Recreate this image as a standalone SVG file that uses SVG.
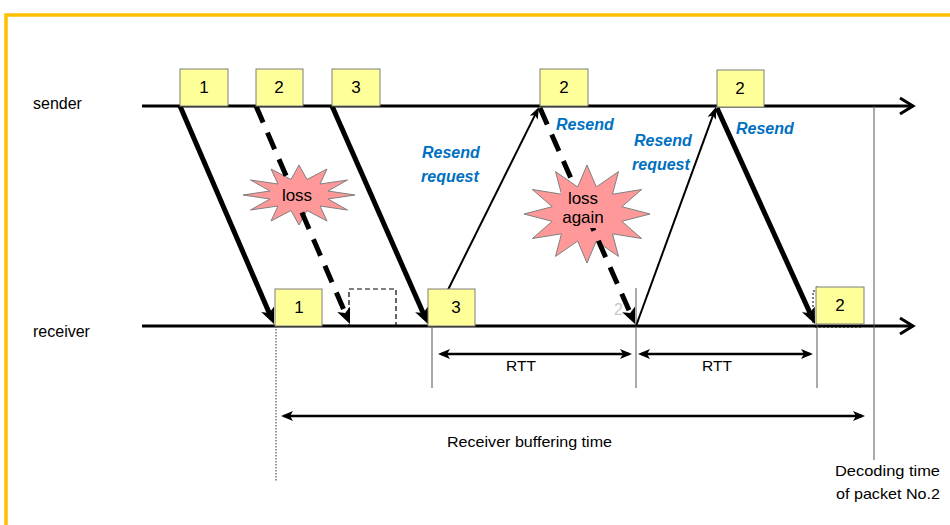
<svg xmlns="http://www.w3.org/2000/svg" width="950" height="525" viewBox="0 0 950 525">
<style>
text{font-family:"Liberation Sans",Arial,sans-serif;fill:#000}
.box{fill:#FFFF99;stroke:#7f7f7f;stroke-width:1}
.num{font-size:17px;text-anchor:middle}
.lbl{font-size:16px}
.blue{font-size:16px;font-weight:bold;font-style:italic;fill:#0070C0}
.axis{stroke:#000;stroke-width:3;fill:none}
.thick{stroke:#000;stroke-width:5;fill:none;marker-end:url(#ah)}
.dash{stroke:#000;stroke-width:5;fill:none;stroke-dasharray:18 11;marker-end:url(#ah)}
.thin{stroke:#000;stroke-width:2;fill:none;marker-end:url(#ahs)}
.dbl{stroke:#000;stroke-width:2.5;fill:none;marker-start:url(#ahd);marker-end:url(#ahd)}
.vl{stroke:#555;stroke-width:1;fill:none}
.star{fill:#FF9999;stroke:#7f7f7f;stroke-width:1}
.patch{fill:#FF9999;stroke:none}
.stxt{font-size:17px;text-anchor:middle}
</style>
<defs>
<marker id="ah" markerUnits="userSpaceOnUse" viewBox="0 0 16 14" markerWidth="16" markerHeight="14" refX="10" refY="7" orient="auto"><path d="M0,0 L16,7 L0,14 L4,7 z" fill="#000"/></marker>
<marker id="ahs" markerUnits="userSpaceOnUse" viewBox="0 0 12 9" markerWidth="12" markerHeight="9" refX="8" refY="4.5" orient="auto"><path d="M0,0 L12,4.5 L0,9 L3,4.5 z" fill="#000"/></marker>
<marker id="ahd" markerUnits="userSpaceOnUse" viewBox="0 0 12 10" markerWidth="12" markerHeight="10" refX="9" refY="5" orient="auto-start-reverse"><path d="M0,0 L12,5 L0,10 L3,5 z" fill="#000"/></marker>
</defs>
<rect width="950" height="525" fill="#fff"/>
<path d="M6,525 V15 H950" fill="none" stroke="#FFC000" stroke-width="3.5"/>

<g id="timelines">
<text class="lbl" x="33" y="109">sender</text>
<text class="lbl" x="33" y="337">receiver</text>
<line class="axis" x1="142" y1="106" x2="913" y2="106"/>
<polyline class="axis" points="900,98 913,106 900,114"/>
<line class="axis" x1="142" y1="326" x2="913" y2="326"/>
<polyline class="axis" points="900,318 913,326 900,334"/>
</g>

<g id="guides">
<line x1="276" y1="326" x2="276" y2="482" stroke="#333" stroke-width="1" stroke-dasharray="1.5 1.5"/>
<line class="vl" x1="432" y1="326" x2="432" y2="388"/>
<line class="vl" x1="636" y1="288" x2="636" y2="388"/>
<line class="vl" x1="817" y1="286" x2="817" y2="388"/>
<line class="vl" x1="874" y1="106" x2="874" y2="460"/>
</g>

<g id="star-loss">
<polygon class="star" points="355,195 328,199 347.5,210 320,206 327,221 307,210.5 299,225 291,210.5 271,221 278,206 250.5,210 270,199 243,195 270,191 250.5,180 278,184 271,169 291,179.5 299,165 307,179.5 327,169 320,184 347.5,180 328,191"/>
</g>
<g id="star-loss-again">
<polygon class="star" points="650,214 621.8,221.3 641.6,238.5 612.5,233.8 618.5,256.4 596.3,241 587,263 577.7,241 555.5,256.4 561.5,233.8 532.4,238.5 552.2,221.3 524,214 552.2,206.7 532.4,189.5 561.5,194.2 555.5,171.6 577.7,187 587,165 596.3,187 618.5,171.6 612.5,194.2 641.6,189.5 621.8,206.7"/>
</g>

<g id="connectors">
<line class="thick" x1="180" y1="106" x2="271.6" y2="318.5"/>
<line class="dash" x1="256" y1="106" x2="347.6" y2="318.5"/>
<line class="thick" x1="332" y1="106" x2="425.6" y2="318.5"/>
<line class="thin" x1="430" y1="326" x2="537.2" y2="110.6"/>
<line class="dash" x1="540" y1="108" x2="632.6" y2="318.5"/>
<line class="thin" x1="636" y1="326" x2="714.6" y2="110.8"/>
<line class="thick" x1="717" y1="108" x2="812.5" y2="318.5"/>
<line class="dbl" x1="441" y1="354" x2="629" y2="354"/>
<line class="dbl" x1="641" y1="354" x2="810" y2="354"/>
<line class="dbl" x1="284" y1="416" x2="862" y2="416"/>
</g>

<g id="star-texts">
<rect class="patch" x="280" y="183" width="36" height="22"/>
<rect class="patch" x="561" y="187" width="46" height="41"/>
<text class="stxt" x="297" y="201">loss</text>
<text class="stxt" x="583" y="204">loss</text>
<text class="stxt" x="583" y="223">again</text>
</g>

<g id="send-packets">
<g id="s1"><rect class="box" x="180" y="69" width="48" height="37"/><text class="num" x="204" y="93">1</text></g>
<g id="s2"><rect class="box" x="256" y="69" width="47" height="37"/><text class="num" x="279" y="93">2</text></g>
<g id="s3"><rect class="box" x="332" y="69" width="48" height="37"/><text class="num" x="356" y="93">3</text></g>
<g id="s2r"><rect class="box" x="540" y="69" width="48" height="37"/><text class="num" x="564" y="93">2</text></g>
<g id="s2r2"><rect class="box" x="717" y="70" width="47" height="37"/><text class="num" x="740" y="94">2</text></g>
</g>

<g id="recv-packets">
<g id="r1"><rect class="box" x="275" y="289" width="47" height="37"/><text class="num" x="299" y="313">1</text></g>
<g id="r2lost"><rect x="349" y="289" width="47" height="37" fill="none" stroke="#000" stroke-width="1.2" stroke-dasharray="5 3"/></g>
<g id="r3"><rect class="box" x="428" y="289" width="47" height="37"/><text class="num" x="456" y="313">3</text></g>
<g id="r2"><rect x="813" y="291" width="48" height="36" fill="none" stroke="#000" stroke-width="1" stroke-dasharray="2 2"/><rect class="box" x="816" y="287" width="48" height="37"/><text class="num" x="840" y="311">2</text></g>
<text x="614" y="315" font-size="16" style="fill:#c8c8c8">2</text>
</g>

<g id="labels">
<text class="blue" x="422" y="158">Resend</text>
<text class="blue" x="421" y="182">request</text>
<text class="blue" x="556" y="130">Resend</text>
<text class="blue" x="634" y="146">Resend</text>
<text class="blue" x="632" y="170">request</text>
<text class="blue" x="736" y="134">Resend</text>
<text x="521" y="371" font-size="15.5" text-anchor="middle">RTT</text>
<text x="717" y="371" font-size="15.5" text-anchor="middle">RTT</text>
<text x="447" y="447" font-size="14.5" textLength="165" lengthAdjust="spacingAndGlyphs">Receiver buffering time</text>
<text x="835" y="476" font-size="14.5" textLength="105" lengthAdjust="spacingAndGlyphs">Decoding  time</text>
<text x="836" y="499" font-size="14.5" textLength="104" lengthAdjust="spacingAndGlyphs">of packet  No.2</text>
</g>
</svg>
